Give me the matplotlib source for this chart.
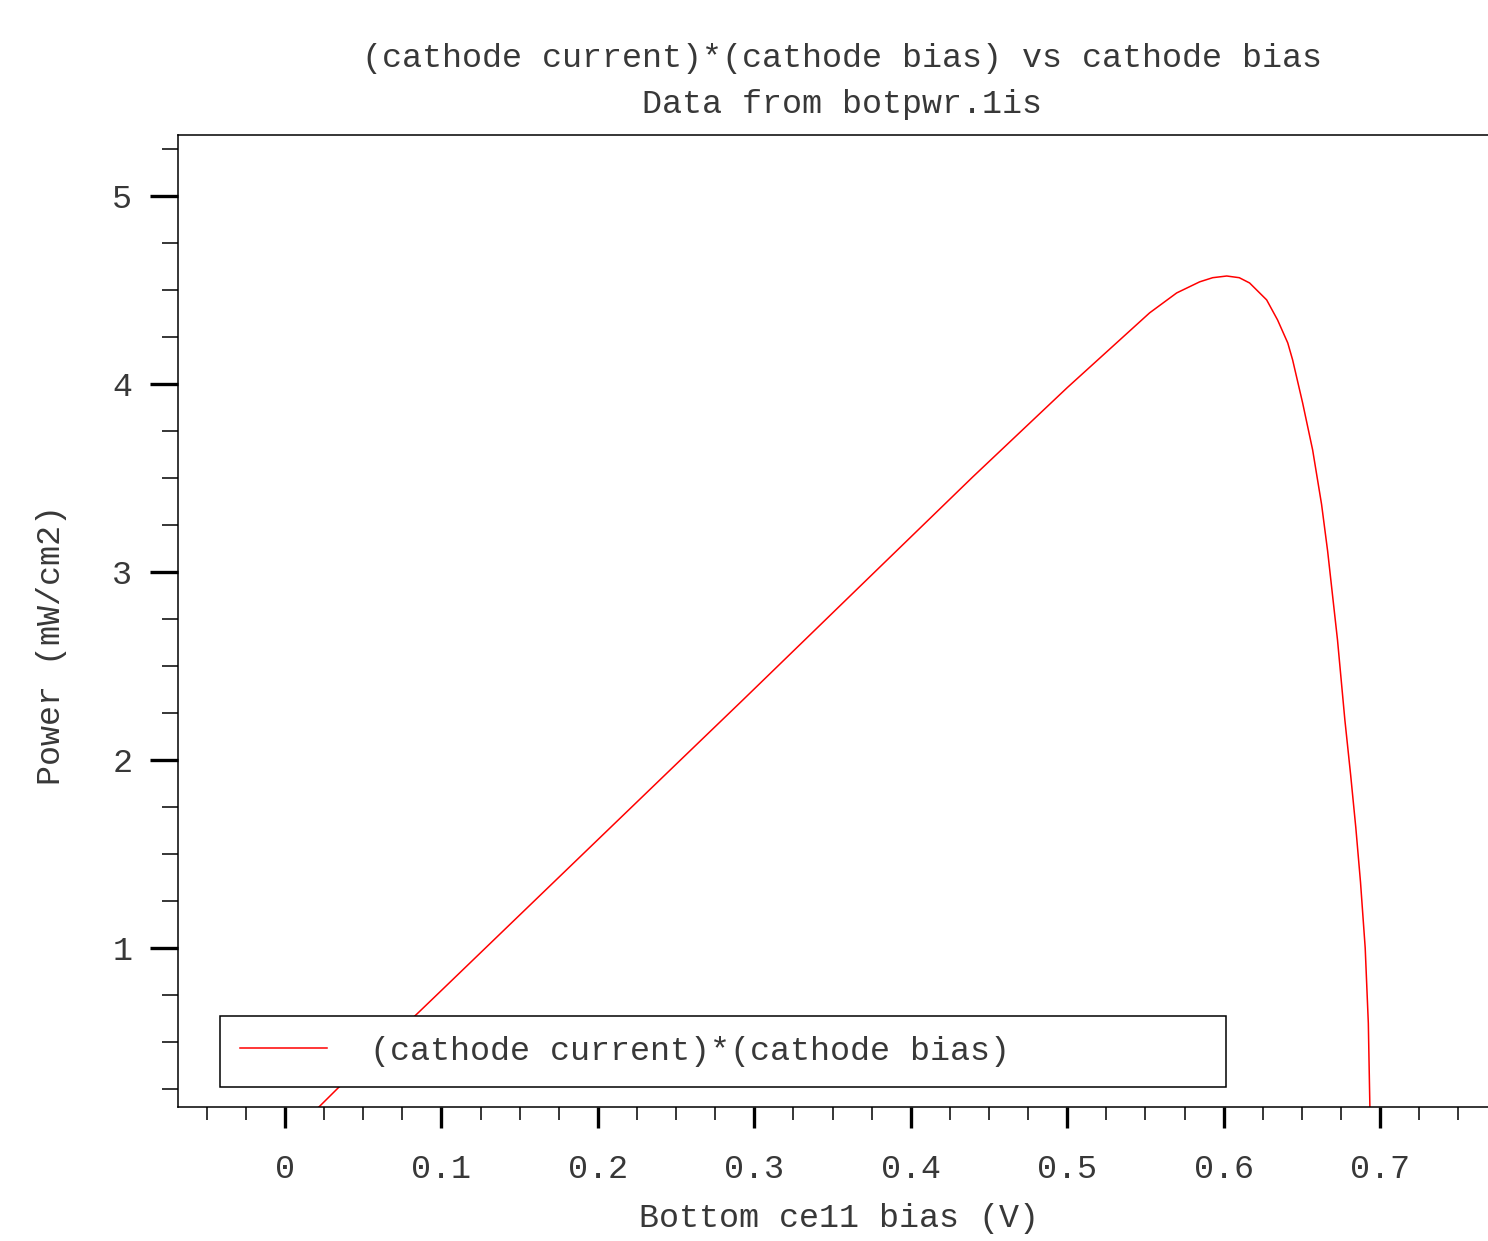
import matplotlib
matplotlib.use("Agg")
import matplotlib.pyplot as plt
from matplotlib.ticker import MultipleLocator, FuncFormatter

# --- data ---
bias = [0.002, 0.0224, 0.0339, 0.085, 0.1, 0.15, 0.2, 0.25, 0.2927, 0.329,
        0.38, 0.4396, 0.5, 0.5527, 0.570, 0.5847, 0.593, 0.602, 0.61,
        0.6166, 0.6275, 0.6345, 0.641, 0.6441, 0.6505, 0.6569, 0.6626,
        0.6665, 0.6697, 0.6728, 0.6775, 0.6812, 0.6845, 0.6875, 0.6905,
        0.6925, 0.6935, 0.6945]
power = [0.0, 0.16, 0.255, 0.654, 0.774, 1.175, 1.576, 1.977, 2.319, 2.612,
         3.024, 3.505, 3.98, 4.378, 4.484, 4.543, 4.565, 4.574, 4.565,
         4.537, 4.447, 4.34, 4.218, 4.128, 3.899, 3.649, 3.36,
         3.11, 2.87, 2.638, 2.213, 1.92, 1.64, 1.35, 1.0,
         0.6, 0.154, 0.0]

title1 = "(cathode current)*(cathode bias) vs cathode bias"
title2 = "Data from botpwr.1is"
xlabel = "Bottom ce11 bias (V)"
ylabel = "Power (mW/cm2)"
legend_label = "(cathode current)*(cathode bias)"

plt.rcParams['font.family'] = ['Liberation Mono', 'DejaVu Sans Mono']
fs = 24
txt_color = '#383838'

fig = plt.figure(figsize=(14.88, 12.41), dpi=100)
ax = fig.add_axes([178 / 1488, 1 - 1107 / 1241, 1 - 178 / 1488, (1107 - 135) / 1241])

ax.plot(bias, power, color='red', lw=1.1, label=legend_label)

ax.set_xlim(-0.0684, 0.769)
ax.set_ylim(0.154, 5.324)

ax.xaxis.set_major_locator(MultipleLocator(0.1))
ax.xaxis.set_minor_locator(MultipleLocator(0.025))
ax.yaxis.set_major_locator(MultipleLocator(1))
ax.yaxis.set_minor_locator(MultipleLocator(0.25))
ax.xaxis.set_major_formatter(FuncFormatter(lambda v, p: "%g" % round(v, 3)))
ax.yaxis.set_major_formatter(FuncFormatter(lambda v, p: "%g" % round(v, 3)))

ax.tick_params(axis='x', which='major', direction='out', length=15, width=2.4,
               pad=19, labelsize=fs, labelcolor=txt_color)
ax.tick_params(axis='x', which='minor', direction='out', length=9.5, width=1.1)
ax.tick_params(axis='y', which='major', direction='out', length=20, width=2.4,
               pad=13, labelsize=fs, labelcolor=txt_color)
ax.tick_params(axis='y', which='minor', direction='out', length=11.5, width=1.1)

for side in ['left', 'bottom', 'top']:
    ax.spines[side].set_linewidth(1.1)
ax.spines['right'].set_visible(False)

fig.text(842 / 1488, 1 - 58 / 1241, title1, ha='center', va='center',
         fontsize=fs, color=txt_color)
fig.text(842 / 1488, 1 - 105 / 1241, title2, ha='center', va='center',
         fontsize=fs, color=txt_color)
fig.text(839 / 1488, 1 - 1218 / 1241, xlabel, ha='center', va='center',
         fontsize=fs, color=txt_color)
fig.text(52 / 1488, 1 - 645 / 1241, ylabel, ha='center', va='center',
         rotation=90, fontsize=fs, color=txt_color)

leg = ax.legend(loc='lower left',
                bbox_to_anchor=((220 - 178) / 1310, (1107 - 1087) / 972,
                                (1226 - 220) / 1310, 72 / 972),
                mode='expand', borderaxespad=0, fancybox=False,
                edgecolor='black', framealpha=1, fontsize=fs,
                handlelength=2.6, handletextpad=1.3, borderpad=0.6,
                labelcolor=txt_color)
leg.get_frame().set_linewidth(1.1)

fig.savefig("out.png", dpi=100)
